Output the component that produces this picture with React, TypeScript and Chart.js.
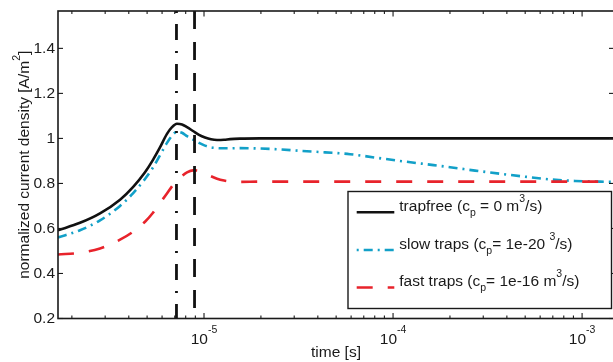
import React, { useEffect, useRef } from "react";
import { Chart, registerables } from "chart.js";

Chart.register(...registerables);

// ---- data ----
const timeS = [
  1.689e-6, 2.208e-6, 2.818e-6, 3.597e-6, 4.21e-6, 4.874e-6, 5.372e-6, 5.848e-6,
  6.369e-6, 6.771e-6, 7.194e-6, 7.648e-6, 8.128e-6, 8.747e-6, 9.41e-6, 1.012e-5,
  1.089e-5, 1.172e-5, 1.276e-5, 1.374e-5, 1.55e-5, 1.977e-5, 2.52e-5, 3.22e-5,
  4.365e-5, 5.92e-5, 8.03e-5, 1.089e-4, 1.477e-4, 2.003e-4, 2.716e-4, 3.683e-4,
  4.99e-4, 6.77e-4, 9.18e-4, 1.245e-3, 1.475e-3,
];
const trapfree = [
  0.592, 0.625, 0.667, 0.728, 0.784, 0.85, 0.905, 0.96, 1.02, 1.05, 1.065, 1.062,
  1.05, 1.033, 1.016, 1.004, 0.996, 0.993, 0.994, 0.997, 0.999, 1.0, 1.0, 1.0,
  1.0, 1.0, 1.0, 1.0, 1.0, 1.0, 1.0, 1.0, 1.0, 1.0, 1.0, 1.0, 1.0,
];
const slowTraps = [
  0.56, 0.592, 0.636, 0.7, 0.756, 0.82, 0.871, 0.925, 0.98, 1.012, 1.03, 1.025,
  1.01, 0.995, 0.98, 0.968, 0.96, 0.957, 0.956, 0.956, 0.957, 0.955, 0.951, 0.945,
  0.938, 0.93, 0.915, 0.9, 0.886, 0.872, 0.857, 0.843, 0.83, 0.818, 0.811, 0.808, 0.807,
];
const fastTraps = [
  0.484, 0.492, 0.511, 0.55, 0.585, 0.63, 0.67, 0.713, 0.755, 0.787, 0.812, 0.833,
  0.849, 0.858, 0.856, 0.845, 0.832, 0.821, 0.813, 0.809, 0.807, 0.808, 0.808, 0.808,
  0.808, 0.808, 0.808, 0.808, 0.808, 0.808, 0.808, 0.808, 0.808, 0.808, 0.808, 0.808, 0.808,
];
const markerDashDotTime = 7.15e-6;
const markerDashedTime = 8.91e-6;

const xMin = 1.689e-6;
const xMax = 1.475e-3;
const yMin = 0.2;
const yMax = 1.566;
const yTicks = [0.2, 0.4, 0.6, 0.8, 1.0, 1.2, 1.4];
const yTickLabels = ["0.2", "0.4", "0.6", "0.8", "1", "1.2", "1.4"];
const xDecades = [-5, -4, -3];

const FONT = '"Liberation Sans", Arial, Helvetica, sans-serif';
const BLACK = "#111111";
const CYAN = "#12a0c8";
const RED = "#e8232b";

const DASH_DOT_CYAN = [9, 5, 2, 5];
const DASH_RED = [16, 15];
const DASH_DOT_BLACK = [2, 11, 16, 11];
const DASH_BLACK = [18, 13];

type Part = { t: string; m?: "sub" | "sup" };

function richWidth(ctx: CanvasRenderingContext2D, parts: Part[], size: number, small: number) {
  let w = 0;
  for (const p of parts) {
    ctx.font = `${p.m ? small : size}px ${FONT}`;
    w += ctx.measureText(p.t).width;
  }
  return w;
}

function drawRich(ctx: CanvasRenderingContext2D, x: number, y: number, parts: Part[], size: number, small: number) {
  let cx = x;
  ctx.textAlign = "left";
  ctx.textBaseline = "alphabetic";
  for (const p of parts) {
    ctx.font = `${p.m ? small : size}px ${FONT}`;
    const dy = p.m === "sub" ? 5 : p.m === "sup" ? -9 : 0;
    ctx.fillText(p.t, cx, y + dy);
    cx += ctx.measureText(p.t).width;
  }
}

const legendItems: { parts: Part[]; color: string; dash: number[] }[] = [
  {
    parts: [{ t: "trapfree (c" }, { t: "p", m: "sub" }, { t: " = 0 m" }, { t: "3", m: "sup" }, { t: "/s)" }],
    color: BLACK,
    dash: [],
  },
  {
    parts: [{ t: "slow traps (c" }, { t: "p", m: "sub" }, { t: "= 1e-20 " }, { t: "3", m: "sup" }, { t: "/s)" }],
    color: CYAN,
    dash: [2, 5, 9, 5],
  },
  {
    parts: [{ t: "fast traps (c" }, { t: "p", m: "sub" }, { t: "= 1e-16 m" }, { t: "3", m: "sup" }, { t: "/s)" }],
    color: RED,
    dash: DASH_RED,
  },
];

const axesPlugin = {
  id: "matlabAxes",
  afterDraw(chart: any) {
    const { ctx, chartArea: a, scales } = chart;
    const xs = scales.x;
    const ys = scales.y;
    ctx.save();
    const line = (x1: number, y1: number, x2: number, y2: number) => {
      ctx.beginPath();
      ctx.moveTo(x1, y1);
      ctx.lineTo(x2, y2);
      ctx.stroke();
    };
    // frame
    ctx.strokeStyle = "#1a1a1a";
    ctx.lineWidth = 1.6;
    ctx.setLineDash([]);
    ctx.strokeRect(a.left, a.top, a.right - a.left, a.bottom - a.top);

    // y ticks
    ctx.lineWidth = 1.1;
    yTicks.forEach((v) => {
      const py = ys.getPixelForValue(v);
      line(a.left, py, a.left + 5, py);
      line(a.right, py, a.right - 5, py);
    });
    // x ticks (log, with minor)
    for (let e = -6; e <= -3; e++) {
      for (let m = 1; m <= 9; m++) {
        const v = m * Math.pow(10, e);
        if (v < xMin || v > xMax) continue;
        const px = xs.getPixelForValue(v);
        const len = m === 1 ? 5.5 : 3;
        line(px, a.bottom, px, a.bottom - len);
        line(px, a.top, px, a.top + len);
      }
    }

    // y tick labels
    ctx.fillStyle = "#1a1a1a";
    ctx.font = `15.5px ${FONT}`;
    ctx.textAlign = "right";
    ctx.textBaseline = "middle";
    yTicks.forEach((v, i) => {
      ctx.fillText(yTickLabels[i], a.left - 3, ys.getPixelForValue(v) + 0.5);
    });

    // x tick labels 10^e
    xDecades.forEach((e) => {
      const px = xs.getPixelForValue(Math.pow(10, e));
      const parts: Part[] = [{ t: "10" }, { t: String(e), m: "sup" }];
      const w = richWidth(ctx, parts, 15.5, 10.5);
      let cx = px - w / 2;
      ctx.textAlign = "left";
      ctx.textBaseline = "alphabetic";
      ctx.font = `15.5px ${FONT}`;
      ctx.fillText("10", cx, 343.5);
      cx += ctx.measureText("10").width;
      ctx.font = `10.5px ${FONT}`;
      ctx.fillText(String(e), cx, 332.5);
    });

    // x title
    ctx.font = `15.5px ${FONT}`;
    ctx.textAlign = "center";
    ctx.textBaseline = "alphabetic";
    ctx.fillText("time [s]", (a.left + a.right) / 2, 357);

    // y title
    const yParts: Part[] = [{ t: "normalized current density [A/m" }, { t: "2", m: "sup" }, { t: "]" }];
    ctx.save();
    ctx.translate(29, (a.top + a.bottom) / 2);
    ctx.rotate(-Math.PI / 2);
    const yw = richWidth(ctx, yParts, 15.5, 10.5);
    drawRich(ctx, -yw / 2, 0, yParts, 15.5, 10.5);
    ctx.restore();

    // legend
    const bx = 348, by = 191.5, bw = 263.5, bh = 117;
    ctx.fillStyle = "#ffffff";
    ctx.fillRect(bx, by, bw, bh);
    ctx.strokeStyle = "#1a1a1a";
    ctx.lineWidth = 1.4;
    ctx.strokeRect(bx, by, bw, bh);
    const rows = [212.3, 250, 287.5];
    legendItems.forEach((it, i) => {
      const ly = rows[i];
      ctx.strokeStyle = it.color;
      ctx.lineWidth = 2.6;
      ctx.setLineDash(it.dash);
      ctx.lineDashOffset = 0;
      line(356.7, ly, 394.3, ly);
      ctx.setLineDash([]);
      ctx.fillStyle = "#1a1a1a";
      drawRich(ctx, 399.3, ly - 1.5, it.parts, 15.5, 10.5);
    });
    ctx.restore();
  },
};

export default function App() {
  const ref = useRef<HTMLCanvasElement | null>(null);
  useEffect(() => {
    if (!ref.current) return;
    const mk = (ys: number[]) => timeS.map((t, i) => ({ x: t, y: ys[i] }));
    const chart = new Chart(ref.current, {
      type: "line",
      data: {
        datasets: [
          {
            label: "marker dash-dot",
            data: [
              { x: markerDashDotTime, y: yMax },
              { x: markerDashDotTime, y: yMin },
            ],
            borderColor: BLACK,
            borderWidth: 2.8,
            borderDash: DASH_DOT_BLACK,
            pointRadius: 0,
            tension: 0,
          },
          {
            label: "marker dashed",
            data: [
              { x: markerDashedTime, y: yMax },
              { x: markerDashedTime, y: yMin },
            ],
            borderColor: BLACK,
            borderWidth: 2.8,
            borderDash: DASH_BLACK,
            pointRadius: 0,
            tension: 0,
          },
          {
            label: "fast traps",
            data: mk(fastTraps),
            borderColor: RED,
            borderWidth: 2.6,
            borderDash: DASH_RED,
            pointRadius: 0,
            cubicInterpolationMode: "monotone",
          },
          {
            label: "slow traps",
            data: mk(slowTraps),
            borderColor: CYAN,
            borderWidth: 2.6,
            borderDash: DASH_DOT_CYAN,
            pointRadius: 0,
            cubicInterpolationMode: "monotone",
          },
          {
            label: "trapfree",
            data: mk(trapfree),
            borderColor: BLACK,
            borderWidth: 2.6,
            pointRadius: 0,
            cubicInterpolationMode: "monotone",
          },
        ],
      },
      options: {
        animation: false,
        responsive: false,
        devicePixelRatio: 1,
        layout: { padding: { left: 58, top: 11, right: 1, bottom: 43.5 } },
        plugins: { legend: { display: false }, title: { display: false }, tooltip: { enabled: false } },
        scales: {
          x: { type: "logarithmic", min: xMin, max: xMax, display: false },
          y: { type: "linear", min: yMin, max: yMax, display: false },
        },
        events: [],
      },
      plugins: [axesPlugin],
    });
    return () => chart.destroy();
  }, []);
  return (
    <div style={{ position: "absolute", left: 0, top: 0, width: 613, height: 362, overflow: "hidden", background: "#fff" }}>
      <canvas ref={ref} width={615} height={362} style={{ width: 615, height: 362, display: "block" }} />
    </div>
  );
}
